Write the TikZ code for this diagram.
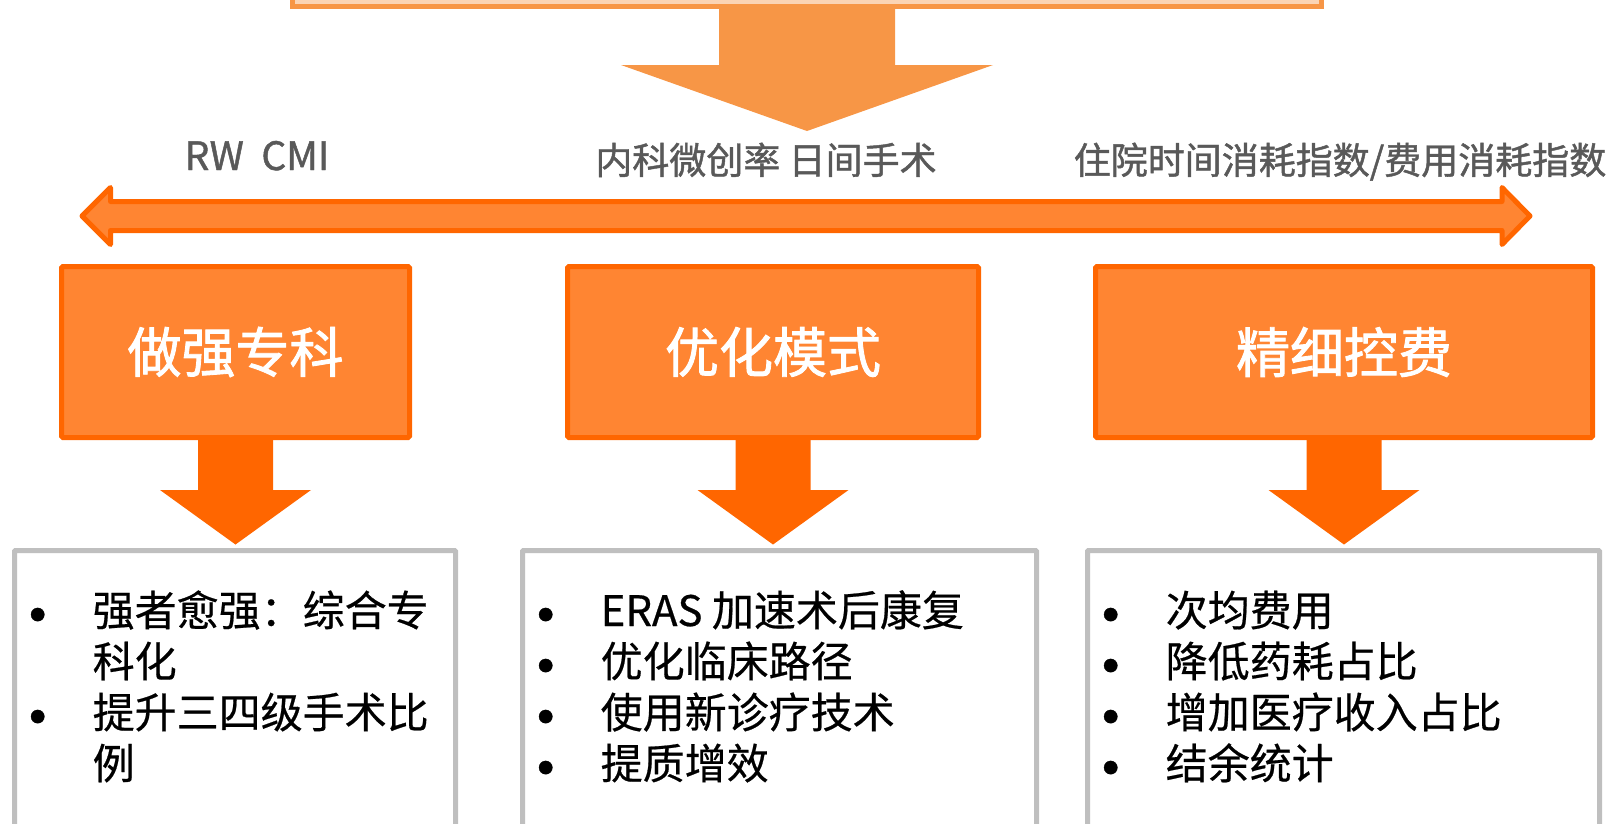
\documentclass[tikz,border=0pt]{standalone}
\usepackage{fontspec}
\setmainfont{Noto Sans CJK SC}
\newfontfamily\demigras[FakeBold=1.2]{Noto Sans CJK SC}
\newfontfamily\titre[FakeBold=1.6]{Noto Sans CJK SC}
\newfontfamily\courant[FakeBold=0.5]{Noto Sans CJK SC}
\usetikzlibrary{calc}

\definecolor{orangevif}{HTML}{FF6600}
\definecolor{orangefond}{HTML}{FF8532}
\definecolor{orangepale}{HTML}{F79646}
\definecolor{peche}{HTML}{FBD4B4}
\definecolor{grisbord}{HTML}{BFBFBF}
\definecolor{gristexte}{HTML}{595959}

\newcommand{\puce}{\makebox[70pt][l]{\makebox[30pt]{\smash{\raisebox{-12.5pt}{\scalebox{1.5}{•}}}}}}
\newcommand{\retrait}{\hspace*{70pt}}
\newcommand{\flechebloc}[6]{%
  \fill[#1] let \p1=#2, \p2=#3 in
    (\x1-#4pt,\y1) -- (\x1+#4pt,\y1) -- (\x1+#4pt,\y2+#6pt) -- (\x1+#5pt,\y2+#6pt)
    -- (\x1,\y2) -- (\x1-#5pt,\y2+#6pt) -- (\x1-#4pt,\y2+#6pt) -- cycle;}

\begin{document}
\begin{tikzpicture}[
  x=1pt, y=-1pt,
  axe/.style        = {fill=orangefond, draw=orangevif, line width=5pt, line join=round},
  pilier/.style     = {draw=orangevif, fill=orangefond, line width=5pt, rounded corners=1.5pt,
                       minimum height=171pt, text=white, font=\titre\fontsize{54}{60}\selectfont},
  liste/.style      = {draw=grisbord, fill=white, line width=5pt, rounded corners=1pt,
                       minimum height=310pt},
  ligne/.style      = {anchor=base west, inner sep=0pt, font=\courant\fontsize{42}{50}\selectfont},
  indicateur/.style = {anchor=base, inner sep=0pt, text=gristexte,
                       font=\demigras\fontsize{37}{44}\selectfont}
]
\useasboundingbox (0,0) rectangle (1615,823);

\node[draw=orangepale, fill=peche, line width=5pt, minimum width=1029pt,
      minimum height=80pt] (plan) at (807,-33.5) {};
\coordinate (pointe) at (806,131);
\flechebloc{orangepale}{(plan.south)}{(pointe)}{88}{186}{66}

\node[indicateur] (rw)      at (257,170)  {\fontsize{39}{44}\selectfont RW\ \ CMI};
\node[indicateur] (interne) at (766,174)  {内科微创率 日间手术};
\node[indicateur] (sejour)  at (1340,174) {住院时间消耗指数/费用消耗指数};

\coordinate (gauche) at (82,216);
\coordinate (droite) at (1530,216);
\draw[axe] let \p1=(gauche), \p2=(droite) in
  (\p1) -- (\x1+28.5pt,\y1+28.5pt) -- (\x1+28.5pt,\y1+14.5pt) -- (\x2-28pt,\y1+14.5pt)
  -- (\x2-28pt,\y1+28.5pt) -- (\p2) -- (\x2-28pt,\y1-28.5pt) -- (\x2-28pt,\y1-14.5pt)
  -- (\x1+28.5pt,\y1-14.5pt) -- (\x1+28.5pt,\y1-28.5pt) -- cycle;

\node[pilier, minimum width=348pt] (fort) at (235.5,352) {做强专科};
\node[pilier, minimum width=411pt] (mode) at (773,352)   {优化模式};
\node[pilier, minimum width=497pt] (cout) at (1344,352)  {精细控费};

\node[liste, minimum width=441pt] (l1) at (235,705.5)    {};
\node[liste, minimum width=514pt] (l2) at (779.5,705.5)  {};
\node[liste, minimum width=512pt] (l3) at (1343.5,705.5) {};

\flechebloc{orangevif}{(fort.south)}{([yshift=3.5pt]l1.north)}{37.5}{75.5}{54.5}
\flechebloc{orangevif}{(mode.south)}{([yshift=3.5pt]l2.north)}{37.5}{75.5}{54.5}
\flechebloc{orangevif}{(cout.south)}{([yshift=3.5pt]l3.north)}{37.5}{75.5}{54.5}

\foreach \txt [count=\i from 0] in {{\puce 强者愈强：综合专}, {\retrait 科化},
    {\puce 提升三四级手术比}, {\retrait 例}}
  \node[ligne] at ($(l1.north west)+(10.5,78+51*\i)$) {\txt};
\foreach \txt [count=\i from 0] in {{\puce ERAS 加速术后康复}, {\puce 优化临床路径},
    {\puce 使用新诊疗技术}, {\puce 提质增效}}
  \node[ligne] at ($(l2.north west)+(10.5,78+51*\i)$) {\txt};
\foreach \txt [count=\i from 0] in {{\puce 次均费用}, {\puce 降低药耗占比},
    {\puce 增加医疗收入占比}, {\puce 结余统计}}
  \node[ligne] at ($(l3.north west)+(10.5,78+51*\i)$) {\txt};
\end{tikzpicture}
\end{document}
